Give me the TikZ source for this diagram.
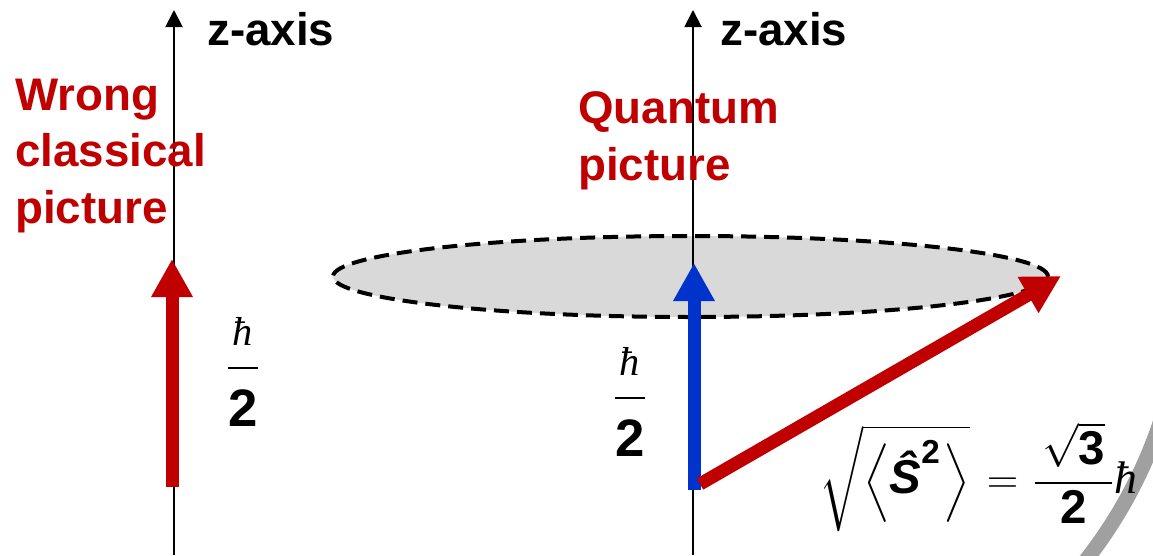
\documentclass[tikz,border=0pt]{standalone}
\usepackage{amsmath}
\usepackage{fontspec}
\setmainfont{Liberation Sans}
\newfontfamily\planckfont{Liberation Serif}
\usetikzlibrary{arrows.meta,shapes.geometric}
\definecolor{spinRed}{RGB}{192,0,0}
\definecolor{spinBlue}{RGB}{0,51,204}
\definecolor{discFill}{RGB}{217,217,217}
\definecolor{rimGray}{RGB}{160,160,160}
\tikzset{
  zaxis/.style={-{Triangle[length=0.34cm,width=0.34cm]}, draw=black, line width=1.1pt},
  spin/.style={-{Triangle[length=0.76cm,width=0.78cm]}, line width=0.26cm},
  redspin/.style={spin, draw=spinRed, fill=spinRed},
  bluespin/.style={spin, draw=spinBlue, fill=spinBlue},
  axislabel/.style={font=\fontsize{26}{32}\selectfont\bfseries, inner sep=0pt, anchor=base west},
  caption/.style={font=\fontsize{26}{32}\selectfont\bfseries, text=spinRed, align=left, inner sep=0pt, anchor=base west},
  halfhbar/.style={font=\fontsize{30}{36}\selectfont, inner sep=0pt},
  formula/.style={font=\fontsize{27}{32}\selectfont, inner sep=0pt, anchor=west},
  disc/.style={draw=black, fill=discFill, line width=0.08cm, dash pattern=on 0.3cm off 0.16cm}
}
\newcommand{\hb}[1]{\text{\fontsize{#1}{#1}\selectfont\planckfont\itshape ħ}}
\newcommand{\hbarhalf}{$\genfrac{}{}{1.1pt}{0}{\rule[-9pt]{0pt}{9pt}\hb{23}}{\rule{0pt}{29pt}\textbf{2}}$}

\begin{document}
\begin{tikzpicture}[x=1cm,y=1cm]
  \useasboundingbox (0,0) rectangle (23.06,11.10);

  % classical side
  \coordinate (lbot) at (3.48,0);
  \coordinate (ltop) at (3.48,10.90);
  \draw[zaxis] (lbot) -- (ltop);
  \node[axislabel] (lzlabel) at (4.14,10.20) {z-axis};
  \node[caption] (wrongtxt) at (0.30,6.64) {Wrong\\classical\\picture};
  \coordinate (cspinbot) at (3.44,1.36);
  \coordinate (cspintop) at (3.44,5.92);
  \draw[redspin] (cspinbot) -- (cspintop);
  \node[halfhbar] (lhalf) at (4.86,3.66) {\hbarhalf};

  % quantum side
  \node[disc, ellipse, minimum width=14.3cm, minimum height=1.62cm] (cone) at (13.81,5.57) {};
  \coordinate (rbot) at (13.86,0);
  \coordinate (rtop) at (13.86,10.90);
  \draw[zaxis] (rbot) -- (rtop);
  \node[axislabel] (rzlabel) at (14.40,10.20) {z-axis};
  \node[caption] (quantumtxt) at (11.56,7.50) {Quantum\\picture};
  \coordinate (qspinbot) at (13.88,1.30);
  \coordinate (qspintop) at (13.88,5.84);
  \draw[bluespin] (qspinbot) -- (qspintop);
  \coordinate (totbot) at (14.00,1.42);
  \coordinate (tottip) at (21.22,5.58);
  \draw[redspin] (totbot) -- (tottip);
  \node[halfhbar] (rhalf) at (12.60,3.06) {\hbarhalf};

  % rim
  \draw[rimGray, line width=0.3cm] (14.49,5.57) ++(-15:9.19) arc[start angle=-15, end angle=-60, radius=9.19];

  \node[formula] (normtxt) at (16.38,1.56) {$\sqrt{\Bigl\langle\text{\bfseries\itshape Ŝ}^{\textbf{2}}\mkern1mu\Bigr\rangle}\mkern2mu=\mkern1mu\dfrac{\,\sqrt{\textbf{3}}\,}{\textbf{2}}\hb{26}$};
\end{tikzpicture}
\end{document}
